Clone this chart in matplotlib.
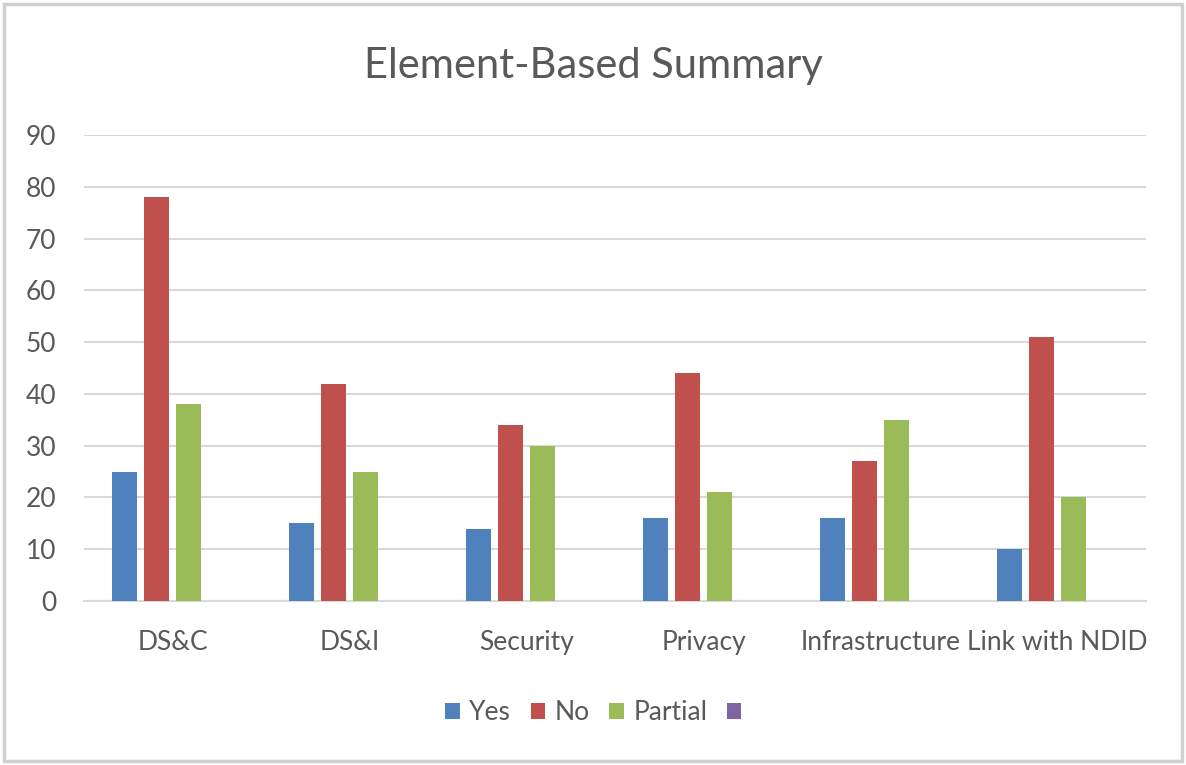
import matplotlib
matplotlib.use("Agg")
import matplotlib.pyplot as plt
import numpy as np
from matplotlib.patches import Rectangle, Patch

categories = ["DS&C", "DS&I", "Security", "Privacy", "Infrastructure", "Link with NDID"]
yes_vals = [25, 15, 14, 16, 16, 10]
no_vals = [78, 42, 34, 44, 27, 51]
partial_vals = [38, 25, 30, 21, 35, 20]
empty_vals = [0, 0, 0, 0, 0, 0]
series_names = ["Yes", "No", "Partial", ""]
colors = ["#4F81BD", "#C0504D", "#9BBB59", "#8064A2"]
yticks = [0, 10, 20, 30, 40, 50, 60, 70, 80, 90]

plt.rcParams['font.family'] = ['Lato', 'DejaVu Sans']
txt = "#595959"
W, H = 1186, 765
fig = plt.figure(figsize=(W / 100, H / 100), dpi=100)
ax = fig.add_axes([84 / W, 1 - 601 / H, (1146 - 84) / W, (601 - 135) / H])

x = np.arange(len(categories))
bw = 0.141
step = 0.1825
series = [yes_vals, no_vals, partial_vals, empty_vals]
handles = []
for i, (vals, c) in enumerate(zip(series, colors)):
    ax.bar(x + (i - 1.5) * step, vals, width=bw, color=c, linewidth=0, zorder=3)
    handles.append(Patch(facecolor=c, edgecolor='none'))

ax.set_xlim(-0.5, len(categories) - 0.5)
ax.set_ylim(0, 90)
ax.set_yticks(yticks)
ax.set_xticks(x)
ax.set_xticklabels(categories)
ax.yaxis.grid(True, color="#D9D9D9", linewidth=1.5, zorder=0)
ax.set_axisbelow(True)
for s in ["top", "right", "left"]:
    ax.spines[s].set_visible(False)
ax.spines["bottom"].set_color("#D9D9D9")
ax.spines["bottom"].set_linewidth(1.5)
ax.tick_params(axis='both', length=0, labelsize=19, labelcolor=txt)
ax.tick_params(axis='y', pad=20)
ax.tick_params(axis='x', pad=21)

fig.text(0.5, 1 - 66 / H, "Element-Based Summary", ha='center', va='center',
         fontsize=30, color=txt)

leg = fig.legend(handles, series_names, loc='center', bbox_to_anchor=(598 / W, 1 - 713 / H),
                 ncol=4, frameon=False, fontsize=19, labelcolor=txt,
                 handlelength=0.55, handleheight=0.55, handletextpad=0.35, columnspacing=0.75)

fig.patches.append(Rectangle((4 / W, 4 / H), (W - 8) / W, (H - 8) / H, transform=fig.transFigure,
                             fill=False, edgecolor="#D0D0D0", linewidth=2.5))

fig.savefig("out.png", dpi=100)
